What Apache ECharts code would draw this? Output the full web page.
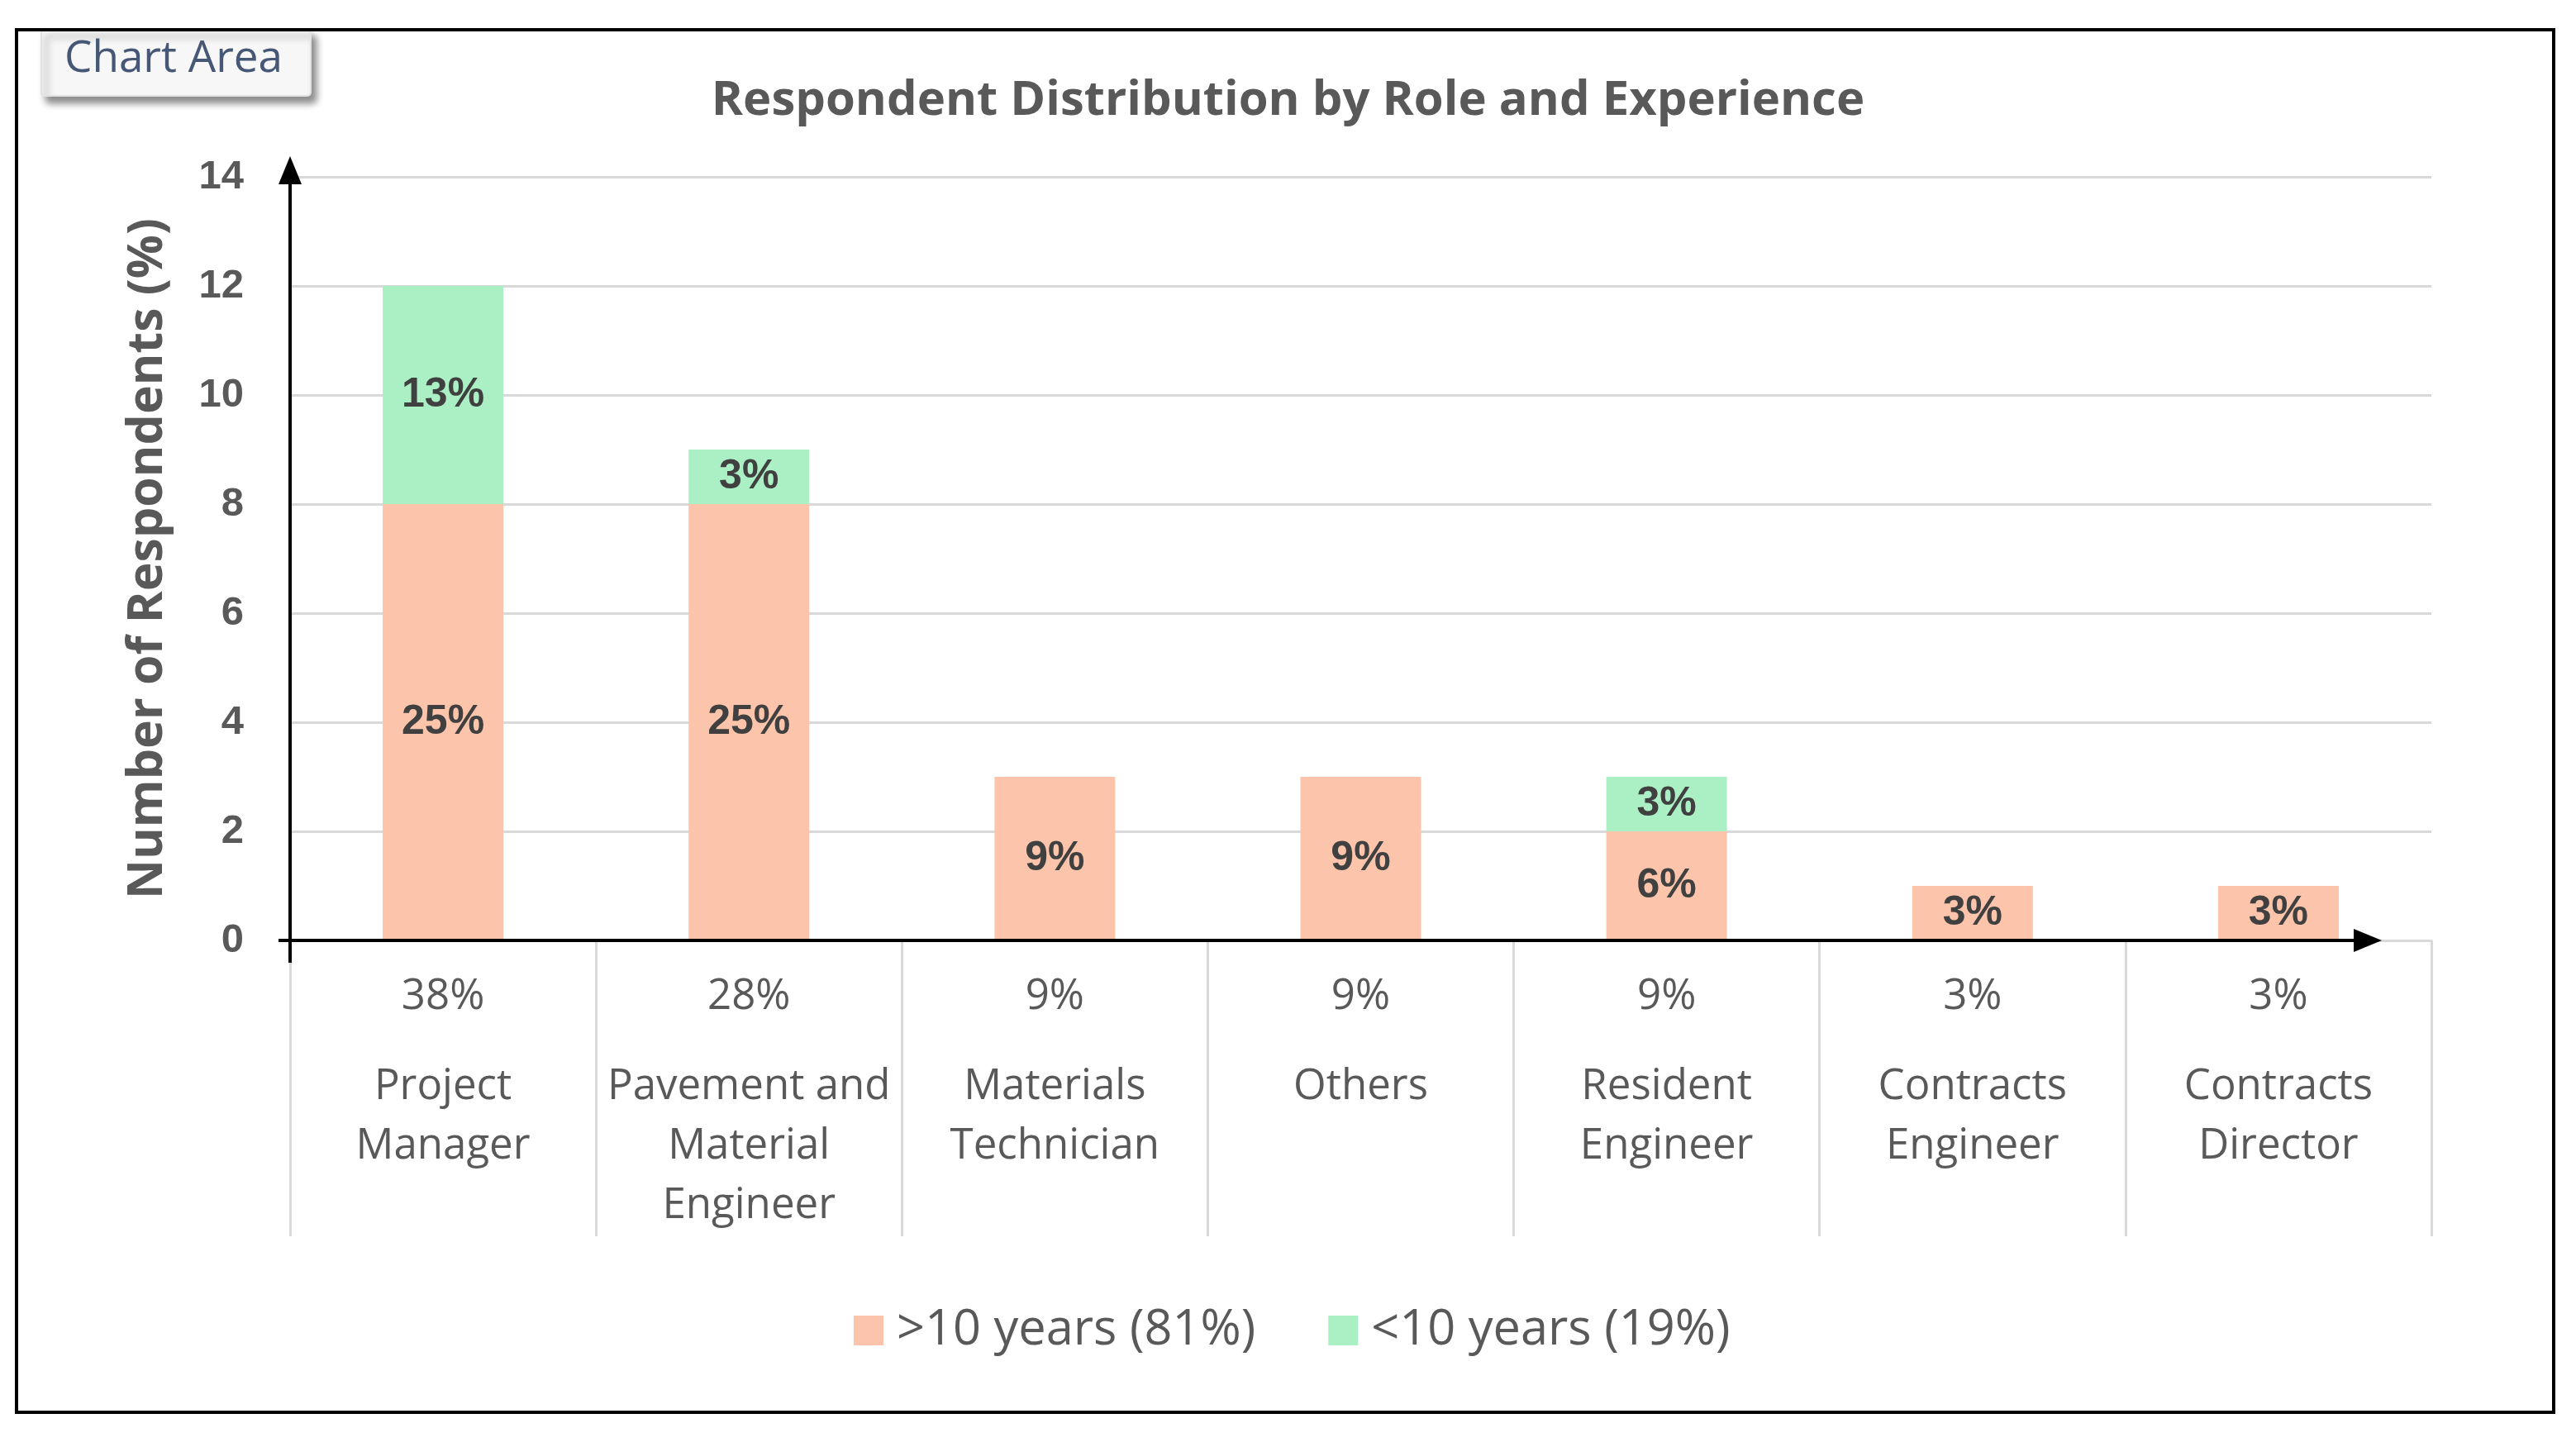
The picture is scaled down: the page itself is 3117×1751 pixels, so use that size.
<!DOCTYPE html>
<html>
<head>
<meta charset="utf-8">
<script src="https://cdn.jsdelivr.net/npm/echarts@6/dist/echarts.min.js"></script>
<style>
  html, body { margin: 0; padding: 0; background: #ffffff; }
  #chart { width: 3117px; height: 1751px; }
</style>
</head>
<body>
<div id="chart"></div>
<script>
// ---- data ----
const categories = ['Project\nManager', 'Pavement and\nMaterial\nEngineer', 'Materials\nTechnician', 'Others', 'Resident\nEngineer', 'Contracts\nEngineer', 'Contracts\nDirector'];
const categoryShares = ['38%', '28%', '9%', '9%', '9%', '3%', '3%'];
const overTenYears = [8, 8, 3, 3, 2, 1, 1];
const underTenYears = [4, 1, 0, 0, 1, 0, 0];
const overTenLabels = ['25%', '25%', '9%', '9%', '6%', '3%', '3%'];
const underTenLabels = ['13%', '3%', '', '', '3%', '', ''];
const seriesNames = ['>10 years (81%)', '<10 years (19%)'];
const yTicks = { min: 0, max: 14, interval: 2 };

// ---- layout / style ----
const GRID = { left: 351, right: 175, top: 214, bottom: 613, containLabel: false, outerBoundsMode: 'none' };
const ORANGE = '#FCC4AA', GREEN = '#ABF0C5';
const GRAY = '#595959';

const chart = echarts.init(document.getElementById('chart'), null, { renderer: 'canvas' });

const option = {
  animation: false,
  backgroundColor: '#ffffff',
  title: {
    text: 'Respondent Distribution by Role and Experience',
    left: 'center',
    top: 88,
    textStyle: { fontFamily: 'Open Sans', fontWeight: 'bold', fontSize: 58, color: GRAY }
  },
  legend: {
    left: 1033,
    top: 1580,
    padding: 0,
    itemWidth: 36,
    itemHeight: 36,
    itemGap: 88,
    icon: 'rect',
    textStyle: { fontFamily: 'Open Sans', fontSize: 59.5, color: GRAY, padding: [0, 0, 0, 11] },
    data: seriesNames
  },
  grid: GRID,
  xAxis: {
    type: 'category',
    data: categories,
    boundaryGap: true,
    axisLine: { show: true, lineStyle: { color: '#d9d9d9', width: 3 } },
    axisTick: { show: true, alignWithLabel: false, interval: 0, length: 358, lineStyle: { color: '#d9d9d9', width: 3 } },
    axisLabel: {
      interval: 0,
      margin: -5,
      formatter: function (value, idx) {
        const lines = value.split('\n').map(function (l) { return '{n|' + l + '}'; });
        return '{p|' + categoryShares[idx] + '}\n' + lines.join('\n');
      },
      rich: {
        p: { fontFamily: 'Open Sans', fontSize: 51, color: GRAY, lineHeight: 146 },
        n: { fontFamily: 'Open Sans', fontSize: 51, color: GRAY, lineHeight: 72 }
      }
    },
    splitLine: { show: false }
  },
  yAxis: {
    type: 'value',
    min: yTicks.min,
    max: yTicks.max,
    interval: yTicks.interval,
    name: 'Number of Respondents (%)',
    nameLocation: 'middle',
    nameGap: 142,
    nameTextStyle: { fontFamily: 'Open Sans', fontWeight: 'bold', fontSize: 59, color: GRAY },
    axisLine: { show: false },
    axisTick: { show: false },
    axisLabel: { margin: 56, fontFamily: 'Liberation Sans', fontWeight: 'bold', fontSize: 49, color: GRAY },
    splitLine: { show: true, lineStyle: { color: '#d9d9d9', width: 3 } }
  },
  series: [
    {
      name: seriesNames[0],
      type: 'bar',
      stack: 'total',
      barWidth: 146,
      itemStyle: { color: ORANGE },
      label: {
        show: true, position: 'inside',
        fontFamily: 'Liberation Sans', fontWeight: 'bold', fontSize: 50, color: '#404040',
        formatter: function (p) { return overTenLabels[p.dataIndex]; }
      },
      data: overTenYears
    },
    {
      name: seriesNames[1],
      type: 'bar',
      stack: 'total',
      barWidth: 146,
      itemStyle: { color: GREEN },
      label: {
        show: true, position: 'inside',
        fontFamily: 'Liberation Sans', fontWeight: 'bold', fontSize: 50, color: '#404040',
        formatter: function (p) { return underTenLabels[p.dataIndex]; }
      },
      data: underTenYears
    }
  ]
};

chart.setOption(option);

// ---- decorations: hand-drawn style axis arrows, "Chart Area" tag, outer frame ----
const y0 = chart.convertToPixel({ yAxisIndex: 0 }, yTicks.min);
const yTop = chart.convertToPixel({ yAxisIndex: 0 }, yTicks.max);
const xL = GRID.left;
const xTip = 2882;
const ah = 34, aw = 14;
const black = '#000000';

chart.setOption({
  graphic: [
    // y axis arrow
    { type: 'line', z: 50, shape: { x1: xL, y1: y0 + 27, x2: xL, y2: yTop - 25 + ah - 4 }, style: { stroke: black, lineWidth: 4 } },
    { type: 'polygon', z: 50, shape: { points: [[xL, yTop - 25], [xL - aw, yTop - 25 + ah], [xL + aw, yTop - 25 + ah]] }, style: { fill: black } },
    // x axis arrow
    { type: 'line', z: 50, shape: { x1: xL - 14, y1: y0, x2: xTip - ah + 4, y2: y0 }, style: { stroke: black, lineWidth: 4 } },
    { type: 'polygon', z: 50, shape: { points: [[xTip, y0], [xTip - ah, y0 - aw], [xTip - ah, y0 + aw]] }, style: { fill: black } },
    // Chart Area tag
    { type: 'rect', z: 60, shape: { x: 50, y: 36, width: 326, height: 80, r: 4 },
      style: { fill: '#f7f7f7', stroke: '#e2e2e2', lineWidth: 2, shadowColor: 'rgba(0,0,0,0.45)', shadowBlur: 8, shadowOffsetX: 6, shadowOffsetY: 8 } },
    { type: 'text', z: 61, x: 78, y: 72,
      style: { text: 'Chart Area', fontFamily: 'Open Sans', fontSize: 53, fill: '#465876', verticalAlign: 'middle', align: 'left' } },
    // outer frame
    { type: 'rect', z: 70, shape: { x: 20, y: 36, width: 3070, height: 1673 }, style: { fill: 'none', stroke: black, lineWidth: 4 } }
  ]
});
</script>
</body>
</html>
